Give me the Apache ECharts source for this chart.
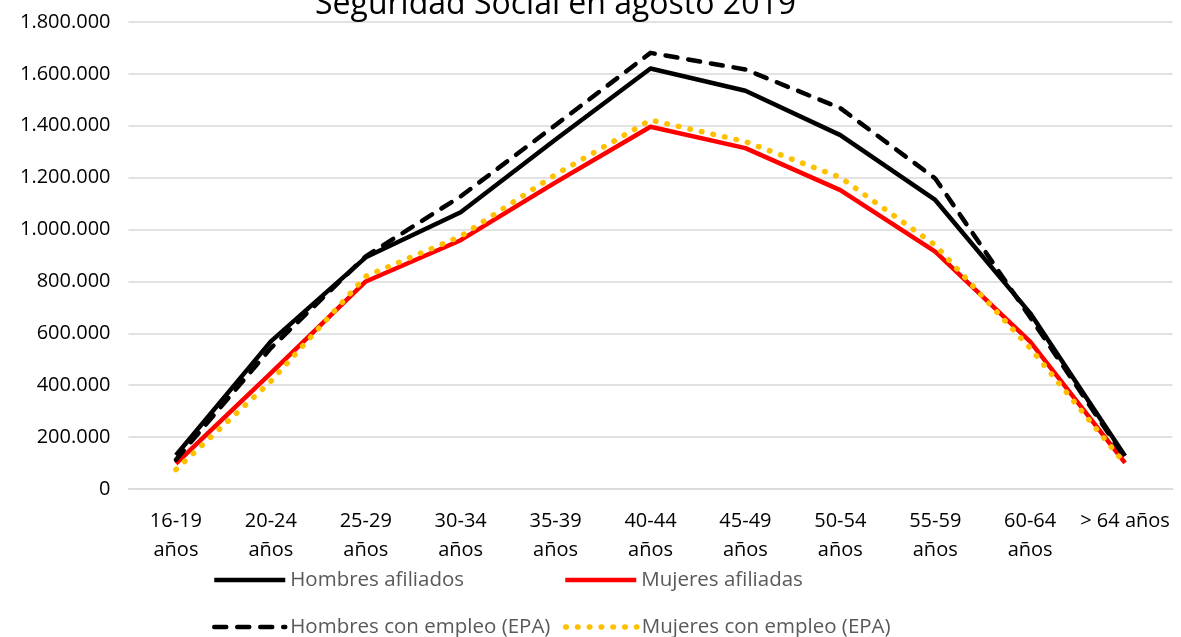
<!DOCTYPE html>
<html>
<head>
<meta charset="utf-8">
<script src="https://cdn.jsdelivr.net/npm/echarts@6/dist/echarts.min.js"></script>
<style>
html,body{margin:0;padding:0;background:#fff;}
#chart{width:1181px;height:637px;}
</style>
</head>
<body>
<div id="chart"></div>
<script>
var categories = ['16-19\naños','20-24\naños','25-29\naños','30-34\naños','35-39\naños','40-44\naños','45-49\naños','50-54\naños','55-59\naños','60-64\naños','> 64 años'];
var hombresAfiliados = [130000, 569000, 893000, 1067000, 1347000, 1621000, 1535000, 1364000, 1114000, 678000, 127000];
var mujeresAfiliadas = [98000, 447000, 800000, 959000, 1182000, 1396000, 1314000, 1152000, 915000, 568000, 101000];
var hombresEPA = [113000, 543000, 897000, 1128000, 1403000, 1681000, 1617000, 1468000, 1197000, 662000, 120000];
var mujeresEPA = [75000, 415000, 820000, 974000, 1212000, 1422000, 1339000, 1201000, 940000, 543000, 97000];
var seriesNames = ['Hombres afiliados','Mujeres afiliadas','Hombres con empleo (EPA)','Mujeres con empleo (EPA)'];
var titleText = 'Seguridad Social en agosto 2019';

var FONT = 'Open Sans';
function fmt(v){ return String(v).replace(/\B(?=(\d{3})+(?!\d))/g, '.'); }

var styles = [
  {color:'#000000', width:4.5, type:'solid', cap:'butt'},
  {color:'#ff0000', width:4.5, type:'solid', cap:'butt'},
  {color:'#000000', width:4.5, type:[12,11], cap:'round'},
  {color:'#ffc000', width:5.5, type:[0.5,11.3], cap:'round'}
];

var chart = echarts.init(document.getElementById('chart'), null, {renderer:'canvas'});
function legendAt(i, left, top){
  var s = styles[i];
  return {
    data:[seriesNames[i]], left:left, top:top, orient:'horizontal',
    itemWidth:71, itemHeight:20, padding:0, itemGap:0,
    itemStyle:{opacity:0},
    lineStyle:{color:s.color, width:s.width, type:s.type, cap:s.cap},
    textStyle:{fontFamily:FONT, fontSize:20.5, color:'#595959', lineHeight:22},
    selectedMode:false
  };
}
chart.setOption({
  backgroundColor:'#fff',
  animation:false,
  title:{
    text:titleText, left:310, top:-16,
    textStyle:{fontFamily:FONT, fontSize:32, fontWeight:'normal', color:'#000'}
  },
  legend:[
    legendAt(0, 212, 569),
    legendAt(1, 563, 569),
    legendAt(2, 212, 616),
    legendAt(3, 563, 616)
  ],
  grid:{left:128.5, right:8.5, top:22, bottom:148, containLabel:false},
  xAxis:{
    type:'category', data:categories, boundaryGap:true,
    axisLine:{show:true, lineStyle:{color:'#d9d9d9', width:1.5}},
    axisTick:{show:false},
    axisLabel:{fontFamily:FONT, fontSize:20, color:'#000', lineHeight:29, margin:18, interval:0}
  },
  yAxis:{
    type:'value', min:0, max:1800000, interval:200000,
    axisLine:{show:false}, axisTick:{show:false},
    splitLine:{lineStyle:{color:'#d9d9d9', width:1.5}},
    axisLabel:{fontFamily:FONT, fontSize:20, color:'#000', margin:18, formatter:fmt}
  },
  series:[hombresAfiliados, mujeresAfiliadas, hombresEPA, mujeresEPA].map(function(d, i){
    var s = styles[i];
    return {name:seriesNames[i], type:'line', data:d, symbol:'none',
      itemStyle:{color:s.color},
      lineStyle:{color:s.color, width:s.width, type:s.type, cap:s.cap, join:'round'}};
  })
});
</script>
</body>
</html>
